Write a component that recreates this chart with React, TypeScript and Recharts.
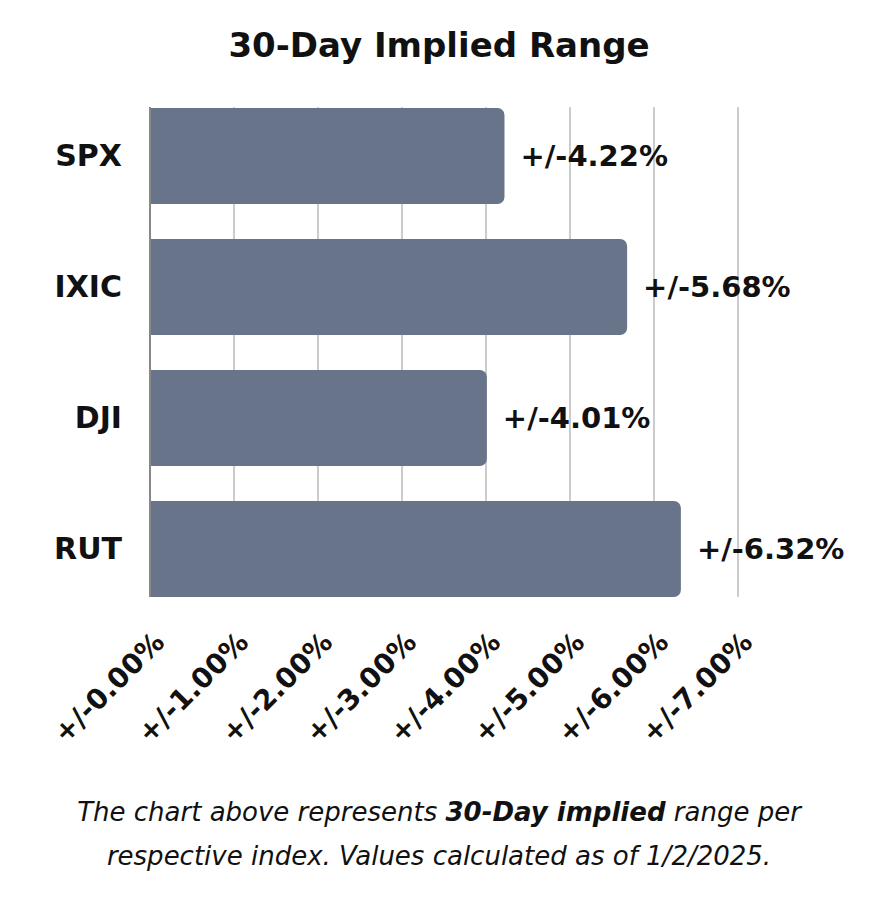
import React from 'react'
import { Bar, BarChart, CartesianGrid, LabelList, XAxis, YAxis } from 'recharts'

const indexNames = ['SPX', 'IXIC', 'DJI', 'RUT']
const impliedRange = [4.22, 5.68, 4.01, 6.32]
const rangeTicks = [0, 1, 2, 3, 4, 5, 6, 7]

const data = indexNames.map((name, i) => ({ name, range: impliedRange[i] }))

const FONT = '"DejaVu Sans", "Noto Sans", sans-serif'
const fmt = (v: number) => `+/-${Number(v).toFixed(2)}%`

const RangeTick = ({ x, y, payload }: any) => (
  <text
    x={x + 16}
    y={y + 39}
    transform={`rotate(-45, ${x + 16}, ${y + 39})`}
    textAnchor="end"
    fontFamily={FONT}
    fontWeight={700}
    fontSize={28}
    fill="#111"
  >
    {fmt(payload.value)}
  </text>
)

export default function App() {
  return (
    <div style={{ position: 'absolute', left: 0, top: 0, width: 878, height: 903, background: '#fff', fontFamily: FONT }}>
      <div
        style={{
          position: 'absolute',
          top: 25,
          left: 0,
          width: 878,
          textAlign: 'center',
          fontSize: 34,
          fontWeight: 700,
          color: '#111',
        }}
      >
        30-Day Implied Range
      </div>
      <BarChart
        width={878}
        height={780}
        data={data}
        layout="vertical"
        margin={{ top: 107, right: 140, left: 0, bottom: 0 }}
      >
        <CartesianGrid horizontal={false} stroke="#cccccc" strokeWidth={2} />
        <XAxis
          type="number"
          domain={[0, 7]}
          ticks={rangeTicks}
          axisLine={false}
          tickLine={false}
          height={183}
          interval={0}
          tick={<RangeTick />}
        />
        <YAxis
          type="category"
          dataKey="name"
          width={150}
          padding={{ top: -17, bottom: -17 }}
          axisLine={{ stroke: '#888', strokeWidth: 2 }}
          tickLine={false}
          tickMargin={22}
          tick={{ fontFamily: FONT, fontWeight: 700, fontSize: 30, fill: '#111' }}
        />
        <Bar dataKey="range" fill="#67748a" barSize={96} radius={[0, 7, 7, 0]} isAnimationActive={false}>
          <LabelList
            dataKey="range"
            position="right"
            offset={16}
            formatter={(v: any) => fmt(v)}
            style={{ fontFamily: FONT, fontWeight: 700, fontSize: 29, fill: '#111' }}
          />
        </Bar>
      </BarChart>
      <div
        style={{
          position: 'absolute',
          top: 790,
          left: 0,
          width: 878,
          textAlign: 'center',
          fontSize: 26,
          fontStyle: 'italic',
          lineHeight: '44px',
          color: '#111',
        }}
      >
        The chart above represents <b>30-Day implied</b> range per
        <br />
        respective index. Values calculated as of 1/2/2025.
      </div>
    </div>
  )
}
